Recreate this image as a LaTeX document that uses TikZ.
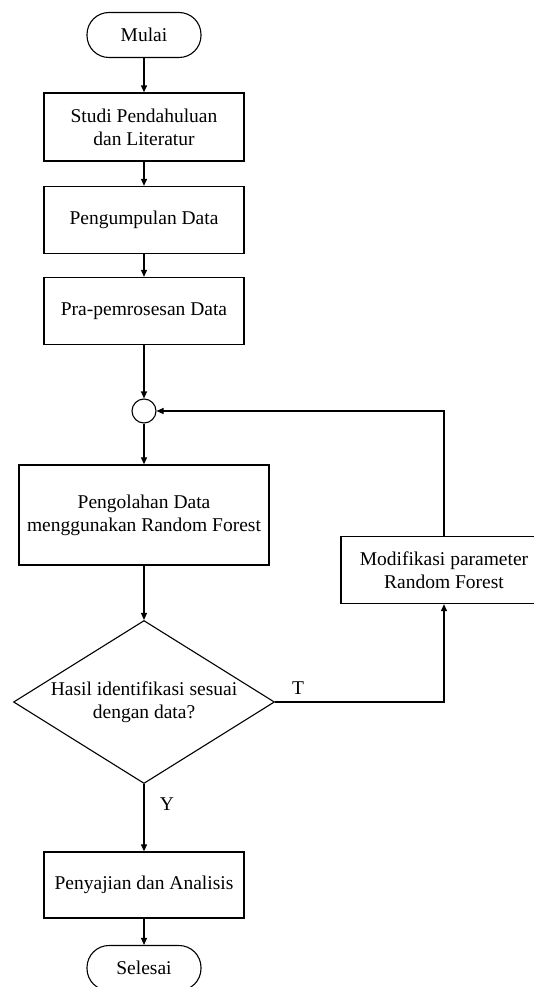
\documentclass[tikz,border=0pt]{standalone}
\usepackage{fontspec}
\setmainfont{Liberation Serif}
\usetikzlibrary{arrows.meta,positioning,shapes.geometric}
\tikzset{
  terminal/.style={draw, rounded corners=22pt, minimum width=114pt, minimum height=45pt,
                   line width=1.1pt, align=center, inner sep=0pt},
  block/.style={draw, minimum width=200pt, minimum height=67pt, line width=1.3pt,
                align=center, inner sep=0pt},
  decision/.style={draw, diamond, aspect=1.6, minimum width=261pt, minimum height=163pt,
                   line width=1.1pt, align=center, inner sep=-5pt},
  junction/.style={draw, circle, minimum size=24pt, line width=1.1pt, inner sep=0pt},
  arrow/.style={-{Triangle[length=7pt,width=6pt]}, line width=1.1pt},
  line/.style={line width=1.1pt}
}

\begin{document}
\begin{tikzpicture}[x=1pt,y=-1pt,font=\fontsize{19.5}{23}\selectfont]
    \useasboundingbox (0,0) rectangle (534,987);
    % main column
    \node[terminal] (mulai) at (144,35) {Mulai};
    \node[block,minimum height=68pt] (studi) at (144,127) {Studi Pendahuluan\\dan Literatur};
    \node[block] (kumpul) at (144,220) {Pengumpulan Data};
    \node[block] (pra) at (144,311) {Pra-pemrosesan Data};
    \node[junction] (titik) at (144,411) {};
    \node[block,minimum width=250pt,minimum height=100pt] (olah) at (144,515) {Pengolahan Data\\menggunakan Random Forest};
    \node[decision] (hasil) at (144,702) {Hasil identifikasi sesuai\\dengan data?};
    \node[block,minimum height=66pt] (saji) at (144,885) {Penyajian dan Analisis};
    \node[terminal] (selesai) at (144,968) {Selesai};
    \draw[arrow] (mulai) -- (studi);
    \draw[arrow] (studi) -- (kumpul);
    \draw[arrow] (kumpul) -- (pra);
    \draw[arrow] (pra) -- (titik);
    \draw[arrow] (titik) -- (olah);
    \draw[arrow] (olah) -- (hasil);
    \draw[arrow] (hasil) -- node[right=12pt,pos=0.3] (ya) {Y} (saji);
    \draw[arrow] (saji) -- (selesai);

    % loop back
    \node[block,minimum width=206pt,minimum height=67pt] (modif) at (444,570) {Modifikasi parameter\\Random Forest};
    \draw[arrow] (hasil.east) -| (modif.south);
    \node (tidak) at (298,688) {T};
    \draw[arrow] (modif.north) |- (titik.east);
\end{tikzpicture}
\end{document}
